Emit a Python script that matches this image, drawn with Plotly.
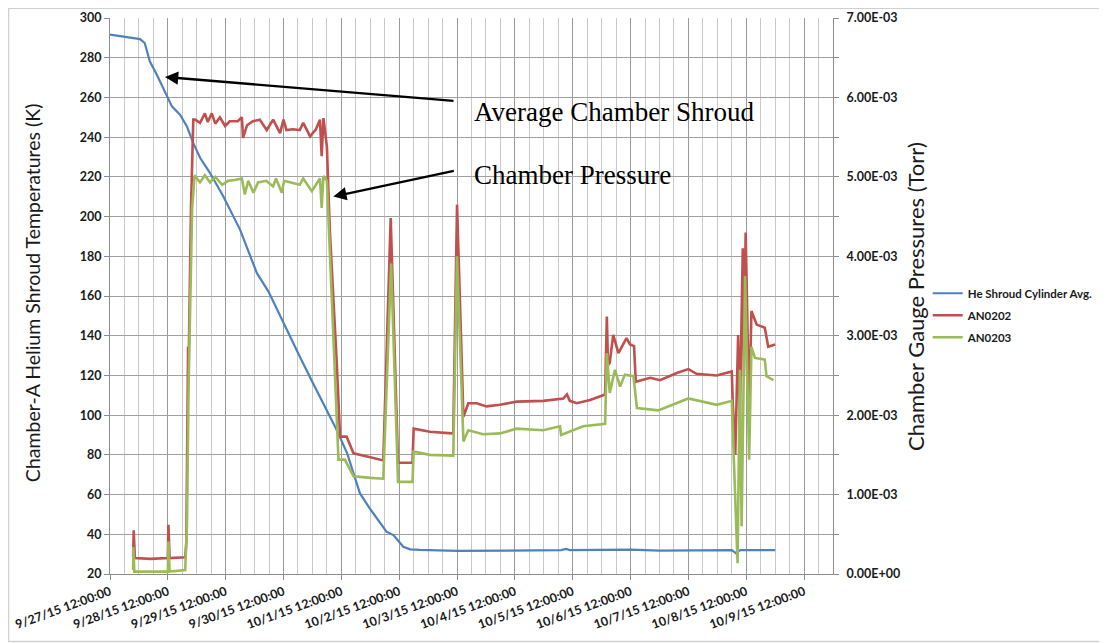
import pandas as pd
import plotly.graph_objects as go

START = pd.Timestamp("2015-09-27 12:00:00")
END = pd.Timestamp("2015-10-10 00:00:00")

# He Shroud Cylinder Avg. (K) — time in days after 9/27/15 12:00
shroud_days = [0.00, 0.52, 0.60, 0.69, 0.81, 0.95, 1.07, 1.21, 1.33, 1.44, 1.56, 1.73, 1.96, 2.25,
               2.54, 2.74, 3.00, 3.28, 3.51, 3.75, 3.92, 4.10, 4.32, 4.49, 4.78, 4.90, 5.07, 5.19,
               5.36, 6.00, 7.00, 7.80, 7.88, 7.95, 9.00, 9.50, 10.75, 10.82, 10.90, 11.50]
shroud_temp_k = [291.6, 289.4, 287.4, 278.1, 271.4, 263.0, 255.5, 251.3, 245.4, 237.0, 229.5, 221.9,
                 210.1, 193.3, 171.5, 162.2, 146.3, 129.5, 116.1, 102.6, 92.5, 80.8, 60.7, 53.1,
                 41.3, 39.6, 33.7, 32.4, 32.1, 31.6, 32.0, 32.0, 32.6, 32.0, 32.3, 31.8, 32.0, 30.5,
                 32.0, 32.0]

# AN0202 pressure (mTorr)
an0202_days = [0.40, 0.41, 0.43, 0.70, 1.00, 1.01, 1.03, 1.30, 1.32, 1.35, 1.355, 1.40, 1.44, 1.47,
               1.556, 1.64, 1.69, 1.76, 1.82, 1.90, 1.99, 2.07, 2.21, 2.28, 2.30, 2.37, 2.47, 2.59,
               2.71, 2.82, 2.94, 3.00, 3.05, 3.16, 3.28, 3.34, 3.46, 3.56, 3.63, 3.66, 3.69, 3.75,
               3.80, 3.92, 3.977, 4.09, 4.21, 4.50, 4.725, 4.853, 4.98, 5.23, 5.25, 5.53, 5.91,
               5.935, 6.00, 6.11, 6.195, 6.34, 6.51, 6.74, 7.03, 7.49, 7.84, 7.90, 7.95, 8.07, 8.30,
               8.56, 8.59, 8.61, 8.64, 8.70, 8.79, 8.93, 8.99, 9.06, 9.09, 9.34, 9.51, 9.80, 10.00,
               10.14, 10.49, 10.75, 10.765, 10.81, 10.86, 10.89, 10.94, 10.96, 10.99, 11.05, 11.09,
               11.18, 11.32, 11.38, 11.50]
an0202_mtorr = [0.22, 0.55, 0.20, 0.19, 0.20, 0.62, 0.20, 0.21, 0.40, 2.86, 2.40, 4.60, 5.72, 5.72,
                5.68, 5.80, 5.69, 5.80, 5.67, 5.75, 5.64, 5.70, 5.70, 5.75, 5.49, 5.65, 5.70, 5.72,
                5.59, 5.72, 5.55, 5.72, 5.59, 5.60, 5.59, 5.68, 5.51, 5.60, 5.72, 5.26, 5.74, 5.38,
                4.33, 2.66, 1.73, 1.73, 1.52, 1.47, 1.43, 4.48, 1.40, 1.40, 1.83, 1.79, 1.77, 1.78,
                4.65, 1.98, 2.15, 2.15, 2.11, 2.13, 2.17, 2.18, 2.21, 2.26, 2.18, 2.15, 2.19, 2.26,
                3.24, 2.63, 2.66, 3.01, 2.78, 2.97, 2.89, 2.87, 2.42, 2.47, 2.44, 2.53, 2.58, 2.52,
                2.50, 2.55, 2.19, 1.50, 3.01, 2.00, 4.10, 2.50, 4.30, 2.05, 3.31, 3.14, 3.10, 2.86,
                2.89]

# AN0203 pressure (mTorr)
an0203_days = [0.40, 0.405, 0.42, 1.00, 1.01, 1.03, 1.30, 1.33, 1.36, 1.42, 1.46, 1.47, 1.556, 1.64,
               1.73, 1.82, 1.94, 2.04, 2.16, 2.28, 2.33, 2.39, 2.48, 2.56, 2.70, 2.82, 2.87, 2.97,
               3.01, 3.17, 3.28, 3.34, 3.49, 3.56, 3.63, 3.66, 3.69, 3.75, 3.86, 3.95, 4.06, 4.21,
               4.50, 4.725, 4.86, 4.98, 5.23, 5.25, 5.53, 5.935, 6.00, 6.11, 6.195, 6.45, 6.74, 7.03,
               7.49, 7.78, 7.80, 8.18, 8.56, 8.59, 8.64, 8.73, 8.82, 8.90, 9.05, 9.11, 9.48, 10.00,
               10.49, 10.75, 10.85, 10.89, 10.92, 10.98, 11.05, 11.09, 11.15, 11.32, 11.35, 11.47]
an0203_mtorr = [0.05, 0.34, 0.03, 0.03, 0.41, 0.03, 0.05, 0.60, 2.40, 4.60, 5.00, 5.01, 4.93, 5.02,
                4.93, 5.00, 4.90, 4.95, 4.96, 4.98, 4.78, 4.95, 4.80, 4.93, 4.95, 4.88, 4.98, 4.80,
                4.95, 4.92, 4.90, 4.98, 4.82, 4.90, 4.98, 4.61, 5.01, 4.95, 3.08, 1.44, 1.44, 1.23,
                1.21, 1.20, 3.91, 1.16, 1.16, 1.54, 1.50, 1.49, 4.00, 1.67, 1.81, 1.76, 1.77, 1.83,
                1.81, 1.86, 1.75, 1.86, 1.89, 2.78, 2.28, 2.57, 2.36, 2.51, 2.49, 2.09, 2.06, 2.21,
                2.13, 2.18, 0.135, 2.57, 0.60, 3.75, 1.44, 2.86, 2.72, 2.70, 2.49, 2.44]

left_ticks = list(range(20, 301, 20))
right_ticks = [i * 0.001 for i in range(0, 8)]
x_tick_days = list(range(0, 13))


def to_time(days):
    return [START + pd.Timedelta(days=d) for d in days]


def torr(mt):
    return [v * 1e-3 for v in mt]


x_tickvals = to_time(x_tick_days)
x_ticktext = [f"<b>{t.month}/{t.day}/{t:%y} {t:%H:%M:%S}</b>" for t in x_tickvals]
left_ticktext = [f"<b>{v}</b>" for v in left_ticks]
right_ticktext = [f"<b>{v:.2E}</b>" for v in right_ticks]

BLUE = "#4F81BD"
RED = "#C0504D"
GREEN = "#9BBB59"
FONT = "Lato, 'Open Sans', sans-serif"
INK = "#1a1a1a"
AXC = "#8C8C8C"

fig = go.Figure()
fig.add_trace(go.Scatter(x=to_time(shroud_days), y=shroud_temp_k, mode="lines",
                         name="<b>He Shroud Cylinder Avg.</b>", legendgroup="g1",
                         line=dict(color=BLUE, width=2.2), yaxis="y"))
fig.add_trace(go.Scatter(x=to_time(an0202_days), y=torr(an0202_mtorr), mode="lines",
                         name="<b>AN0202</b>", legendgroup="g2",
                         line=dict(color=RED, width=2.6), yaxis="y2"))
fig.add_trace(go.Scatter(x=to_time(an0203_days), y=torr(an0203_mtorr), mode="lines",
                         name="<b>AN0203</b>", legendgroup="g3",
                         line=dict(color=GREEN, width=2.6), yaxis="y2"))

tickfont = dict(family=FONT, size=12.5, color=INK)

# The page places the figure 8px from the window's top-left corner.
fig.update_layout(
    template="none",
    width=1099, height=635,
    margin=dict(l=102, r=274, t=10, b=69, autoexpand=False),
    paper_bgcolor="white", plot_bgcolor="white",
    showlegend=True,
    legend=dict(x=1.131, y=0.531, xanchor="left", yanchor="top",
                font=dict(family=FONT, size=11.5, color=INK),
                bgcolor="rgba(0,0,0,0)", itemwidth=30, tracegroupgap=3),
    xaxis=dict(
        type="date", range=[START, END], automargin=False,
        tickvals=x_tickvals, ticktext=x_ticktext,
        tickangle=-20, tickfont=tickfont,
        showgrid=True, gridcolor="#9A9A9A", gridwidth=1,
        showline=True, linecolor=AXC, linewidth=1,
        ticks="outside", ticklen=5, tickcolor=AXC,
        minor=dict(dtick=21600000, tick0=START, showgrid=True, gridcolor="#C8C8C8",
                   gridwidth=1, ticks=""),
        zeroline=False,
    ),
    yaxis=dict(
        range=[20, 300], automargin=False, tickvals=left_ticks, ticktext=left_ticktext,
        tickfont=tickfont,
        showgrid=True, gridcolor="#A0A0A0", gridwidth=1,
        showline=True, linecolor=AXC, linewidth=1,
        ticks="outside", ticklen=5, tickcolor=AXC, zeroline=False,
    ),
    yaxis2=dict(
        range=[0, 0.007], automargin=False, overlaying="y", side="right",
        tickvals=right_ticks, ticktext=right_ticktext, tickfont=tickfont,
        ticklabelstandoff=5,
        showgrid=False, showline=True, linecolor=AXC, linewidth=1,
        ticks="outside", ticklen=5, tickcolor=AXC, zeroline=False,
        minor=dict(dtick=0.0005, ticks="outside", ticklen=5, tickcolor=AXC),
    ),
)

# Axis titles
fig.add_annotation(text="Chamber-A Helium Shroud Temperatures (K)", xref="paper", yref="paper",
                   x=-0.108, y=0.505, xanchor="center", yanchor="middle", textangle=-90,
                   showarrow=False, font=dict(family=FONT, size=19.5, color=INK))
fig.add_annotation(text="Chamber Gauge Pressures (Torr)", xref="paper", yref="paper",
                   x=1.114, y=0.499, xanchor="center", yanchor="middle", textangle=-90,
                   showarrow=False, font=dict(family=FONT, size=22, color=INK))

# Callout texts
SERIF = "'Liberation Serif', 'Times New Roman', serif"
fig.add_annotation(text="Average Chamber Shroud", xref="paper", yref="paper",
                   x=0.5007, y=0.831, xanchor="left", yanchor="middle", showarrow=False,
                   font=dict(family=SERIF, size=27, color="black"))
fig.add_annotation(text="Chamber Pressure", xref="paper", yref="paper",
                   x=0.5007, y=0.718, xanchor="left", yanchor="middle", showarrow=False,
                   font=dict(family=SERIF, size=27, color="black"))

# Arrows
fig.add_annotation(text="", x=START + pd.Timedelta(days=0.951), y=270.3, xref="x", yref="y",
                   ax=290, ay=24, showarrow=True, arrowhead=2, arrowsize=1.1, arrowwidth=2.4,
                   arrowcolor="black")
fig.add_annotation(text="", x=START + pd.Timedelta(days=3.861), y=210.1, xref="x", yref="y",
                   ax=122, ay=-26, showarrow=True, arrowhead=2, arrowsize=1.1, arrowwidth=2.4,
                   arrowcolor="black")

# Outer chart border
fig.add_shape(type="rect", xref="paper", yref="paper", x0=-0.1404, x1=1.385, y0=-0.1215, y1=1.0177,
              line=dict(color="#D0D0D0", width=1.5), fillcolor="rgba(0,0,0,0)", layer="below")

fig.write_html("out.html")
